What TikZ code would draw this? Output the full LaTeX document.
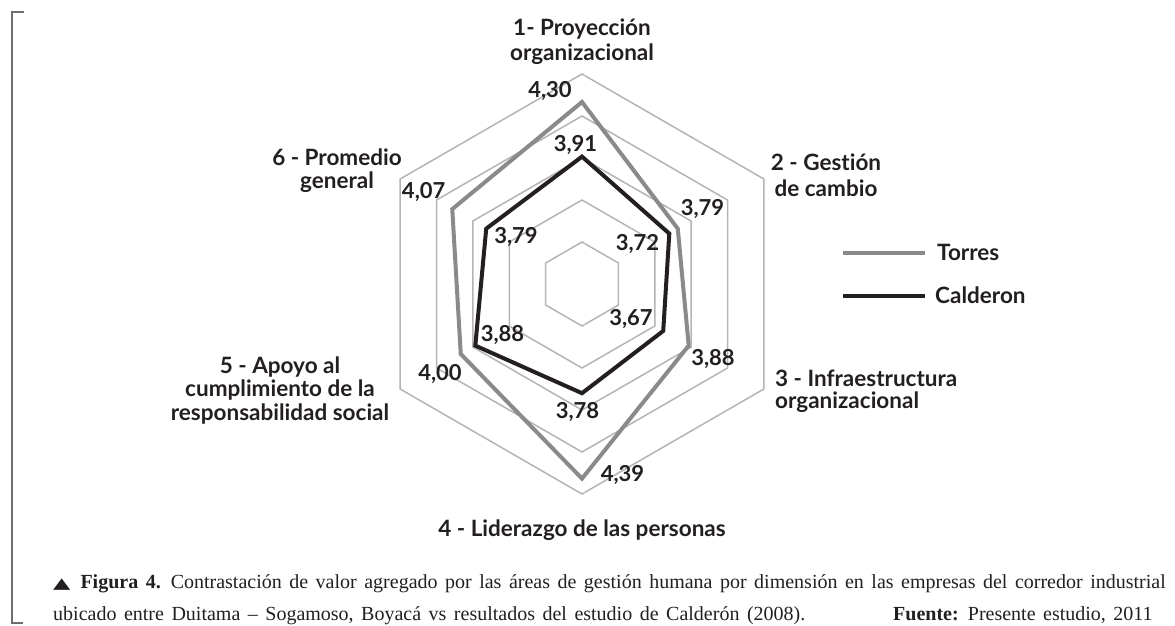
\documentclass[tikz,border=0pt]{standalone}
\usepackage{graphicx}
\usepackage{fontspec}
\setmainfont{Liberation Serif}[WordSpace=1.5]
\newfontfamily\labfont{Lato}[Ligatures=NoCommon]
\newfontfamily\symfont{DejaVu Sans}
\definecolor{gridc}{HTML}{B4B4B4}
\definecolor{torresc}{HTML}{8A8A8A}
\definecolor{caldc}{HTML}{231F20}
\definecolor{brackc}{HTML}{6E6E6E}
\begin{document}
\begin{tikzpicture}[x=1pt,y=1pt,
  gridline/.style={draw=gridc,line width=1.5pt,line join=miter},
  torresline/.style={draw=torresc,line width=4pt,line join=miter},
  caldline/.style={draw=caldc,line width=4pt,line join=miter},
  axislabel/.style={inner sep=0pt,anchor=base,font=\labfont\bfseries\fontsize{22.5}{25}\selectfont,text=caldc},
  vallabel/.style={inner sep=0pt,anchor=base,font=\labfont\bfseries\fontsize{22}{25}\selectfont,text=caldc},
  legtext/.style={inner sep=0pt,anchor=base west,font=\labfont\bfseries\fontsize{22.5}{25}\selectfont,text=caldc},
  captext/.style={inner sep=0pt,anchor=base west,font=\fontsize{20}{24}\selectfont,text=caldc}]
\path[use as bounding box] (0,0) rectangle (1175,-625);
% bracket
\coordinate (bA) at (24,-11.7);
\coordinate (bB) at (11.7,-11.7);
\coordinate (bC) at (11.7,-623);
\coordinate (bD) at (23,-623);
\draw[brackc,line width=2pt] (bA) -- (bB) -- (bC) -- (bD);
% radar
\begin{scope}[shift={(582,-284)}]
  \foreach \k in {1,...,5}{
    \draw[gridline] (90:42*\k) -- (30:42*\k) -- (-30:42*\k) -- (-90:42*\k) -- (210:42*\k) -- (150:42*\k) -- cycle;
  }
  \coordinate (t1) at (90:{140*(4.30-3)});
  \coordinate (t2) at (30:{140*(3.79-3)});
  \coordinate (t3) at (-30:{140*(3.88-3)});
  \coordinate (t4) at (-90:{140*(4.39-3)});
  \coordinate (t5) at (210:{140*(4.00-3)});
  \coordinate (t6) at (150:{140*(4.07-3)});
  \coordinate (c1) at (90:{140*(3.91-3)});
  \coordinate (c2) at (30:{140*(3.72-3)});
  \coordinate (c3) at (-30:{140*(3.67-3)});
  \coordinate (c4) at (-90:{140*(3.78-3)});
  \coordinate (c5) at (210:{140*(3.88-3)});
  \coordinate (c6) at (150:{140*(3.79-3)});
  \draw[torresline] (t1) -- (t2) -- (t3) -- (t4) -- (t5) -- (t6) -- cycle;
  \draw[caldline] (c1) -- (c2) -- (c3) -- (c4) -- (c5) -- (c6) -- cycle;
\end{scope}
% value labels
\node[vallabel] (v430) at (550,-97) {4,30};
\node[vallabel] (v391) at (575.5,-151) {3,91};
\node[vallabel] (v407) at (423.7,-198.5) {4,07};
\node[vallabel] (v379r) at (702.5,-215) {3,79};
\node[vallabel] (v379l) at (516,-243.5) {3,79};
\node[vallabel] (v372) at (637.5,-250) {3,72};
\node[vallabel] (v367) at (631,-325) {3,67};
\node[vallabel] (v388l) at (502.5,-341.7) {3,88};
\node[vallabel] (v388r) at (713,-365) {3,88};
\node[vallabel] (v400) at (440,-380) {4,00};
\node[vallabel] (v378) at (577.5,-418.3) {3,78};
\node[vallabel] (v439) at (622.5,-481.7) {4,39};
% axis labels
\node[axislabel] (a1a) at (582,-35) {1- Proyección};
\node[axislabel] (a1b) at (582,-60) {organizacional};
\node[axislabel] (a2a) at (826,-170) {2 - Gestión};
\node[axislabel] (a2b) at (826,-196) {de cambio};
\node[axislabel,anchor=base west] (a3a) at (775,-386) {3 - Infraestructura};
\node[axislabel,anchor=base west] (a3b) at (775,-408) {organizacional};
\node[axislabel] (a4) at (582,-536.7) {4 - Liderazgo de las personas};
\node[axislabel] (a5a) at (280,-373.3) {5 - Apoyo al};
\node[axislabel] (a5b) at (280,-396.7) {cumplimiento de la};
\node[axislabel] (a5c) at (280,-420) {responsabilidad social};
\node[axislabel] (a6a) at (337,-165) {6 - Promedio};
\node[axislabel] (a6b) at (337,-188) {general};
% legend
\coordinate (lt1) at (843,-252.7);
\coordinate (lt2) at (925,-252.7);
\coordinate (lc1) at (843,-296);
\coordinate (lc2) at (925,-296);
\draw[torresline,line cap=butt] (lt1) -- (lt2);
\draw[caldline,line cap=butt] (lc1) -- (lc2);
\node[legtext] (ltx) at (937,-260) {Torres};
\node[legtext] (lcx) at (935,-303.5) {Calderon};
% caption
\node[captext] (cap1) at (53,-588) {\scalebox{1.5}[1]{\symfont\fontsize{15}{16}\selectfont ▲}\hspace{10pt}\textbf{Figura 4.}\hspace{10pt}Contrastación de valor agregado por las áreas de gestión humana por dimensión en las empresas del corredor industrial};
\node[captext] (cap2) at (53,-620) {ubicado entre Duitama – Sogamoso, Boyacá vs resultados del estudio de Calderón (2008).};
\node[captext] (cap3) at (893,-620) {\textbf{Fuente:} Presente estudio, 2011};
\end{tikzpicture}
\end{document}
